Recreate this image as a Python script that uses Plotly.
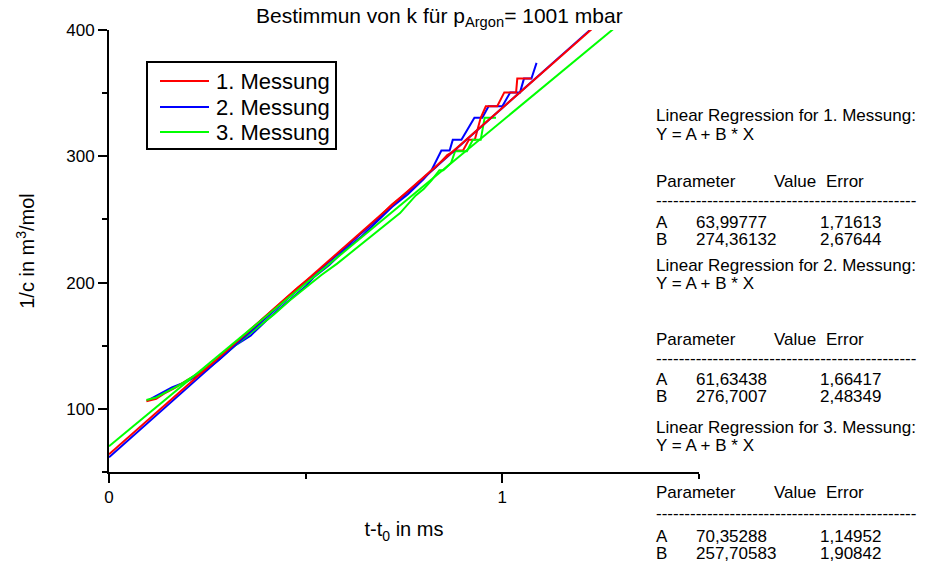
import numpy as np
import plotly.graph_objects as go

# Regression parameters (A, B, errors) per measurement
names = ["1. Messung", "2. Messung", "3. Messung"]
colors = ["#ff0000", "#0000ff", "#00ff00"]
fit_A = [63.99777, 61.63438, 70.35288]
fit_B = [274.36132, 276.7007, 257.70583]
err_A = ["1,71613", "1,66417", "1,14952"]
err_B = ["2,67644", "2,48349", "1,90842"]
val_A = ["63,99777", "61,63438", "70,35288"]
val_B = ["274,36132", "276,7007", "257,70583"]

# Measured 1/c values over t - t0 (ms)
x1 = [0.095, 0.12, 0.14, 0.17, 0.20, 0.24, 0.28, 0.32, 0.36, 0.40, 0.44, 0.48, 0.52,
      0.56, 0.60, 0.64, 0.68, 0.72, 0.76, 0.80, 0.83, 0.86, 0.88, 0.90, 0.915, 0.93,
      0.945, 0.958, 0.987, 1.005, 1.035, 1.038, 1.074]
y1 = [106, 108, 112, 117, 123, 130, 140, 151, 163, 174, 185, 196, 206,
      217, 228, 239, 250, 262, 272, 283, 291, 301, 304.5, 304.5, 313, 313,
      330.5, 339.6, 339.6, 350.6, 350.6, 361.5, 361.5]

x2 = [0.10, 0.13, 0.16, 0.20, 0.24, 0.28, 0.32, 0.36, 0.40, 0.44, 0.48, 0.50, 0.52,
      0.56, 0.60, 0.64, 0.68, 0.72, 0.76, 0.80, 0.82, 0.845, 0.866, 0.874, 0.896,
      0.91, 0.929, 0.949, 0.965, 1.0, 1.02, 1.045, 1.055, 1.074, 1.087]
y2 = [107, 112, 117, 122, 129, 139, 150, 158, 170, 181, 192, 197, 204,
      214, 226, 236, 248, 260, 270, 282, 289, 304.5, 304.5, 313, 313,
      320, 330.5, 330.5, 339.6, 339.6, 350.6, 350.6, 361.5, 361.5, 374]

x3 = [0.095, 0.12, 0.15, 0.18, 0.22, 0.26, 0.30, 0.34, 0.38, 0.42, 0.46, 0.50, 0.54,
      0.58, 0.62, 0.66, 0.70, 0.74, 0.78, 0.80, 0.82, 0.84, 0.85, 0.87, 0.88, 0.91,
      0.925, 0.945, 0.955, 0.984]
y3 = [107, 109, 114, 119, 127, 135, 145, 155, 165, 175, 186, 196, 206,
      215, 225, 235, 245, 255, 269, 274, 281, 289, 289, 295, 304, 304,
      313, 313, 330.5, 330.5]

xs = [x1, x2, x3]
ys = [y1, y2, y3]

FONT = "Liberation Sans, Arial, sans-serif"

fig = go.Figure()

# measured curves, then the regression lines Y = A + B * X
x_fit = np.linspace(0, 1.4, 50)
for i in [1, 0, 2]:
    fig.add_trace(go.Scatter(x=xs[i], y=ys[i], mode="lines", name=names[i],
                             line=dict(color=colors[i], width=2),
                             legendgroup=names[i], showlegend=False))
for i in [1, 0, 2]:
    fig.add_trace(go.Scatter(x=x_fit, y=fit_A[i] + fit_B[i] * x_fit, mode="lines",
                             name=names[i] + " (Fit)", line=dict(color=colors[i], width=2),
                             legendgroup=names[i], showlegend=False))

W, H = 933, 572
L, R, T, B = 109, 234, 30, 100  # plot area: x 109..699, y 30..472


def px(x):
    return (x - L) / (W - L - R)


def py(y):
    return (H - B - y) / (H - T - B)


ann = []
shapes = []
ann.append(dict(text="Bestimmun von k für p<sub>Argon</sub>= 1001 mbar",
                x=px(439), y=py(17), xref="paper", yref="paper",
                showarrow=False, xanchor="center", yanchor="middle",
                font=dict(size=21, family=FONT, color="black")))

# boxed key for the three measurements
shapes.append(dict(type="rect", xref="paper", yref="paper",
                   x0=px(147), x1=px(336), y0=py(62), y1=py(149),
                   line=dict(color="black", width=2), fillcolor="white", layer="above"))
for i, yk in enumerate([81, 107, 132]):
    shapes.append(dict(type="line", xref="paper", yref="paper",
                       x0=px(160), x1=px(209), y0=py(yk), y1=py(yk),
                       line=dict(color=colors[i], width=2), layer="above"))
    ann.append(dict(text=names[i], x=px(214), y=py(yk), xref="paper", yref="paper",
                    showarrow=False, xanchor="left", yanchor="middle",
                    font=dict(size=22, family=FONT, color="black")))

# regression result tables
blocks = [
    dict(lr=116, yeq=134, par=181, dash=201, a=222, b=239),
    dict(lr=265, yeq=283, par=339, dash=358, a=379, b=396),
    dict(lr=427, yeq=445, par=492, dash=513, a=536, b=553),
]
TX = 654
tf = dict(size=17, family=FONT, color="black")
for k, bl in enumerate(blocks):
    def line(text, xp, yp):
        ann.append(dict(text=text, x=px(xp), y=py(yp), xref="paper", yref="paper",
                        showarrow=False, xanchor="left", yanchor="middle", font=tf))
    line(f"Linear Regression for {names[k]}:", TX, bl["lr"])
    line("Y = A + B * X", TX, bl["yeq"])
    line("Parameter", TX, bl["par"])
    line("Value", 772, bl["par"])
    line("Error", 824, bl["par"])
    line("-" * 46, TX, bl["dash"])
    line("A", TX, bl["a"])
    line(val_A[k], 694, bl["a"])
    line(err_A[k], 818, bl["a"])
    line("B", TX, bl["b"])
    line(val_B[k], 694, bl["b"])
    line(err_B[k], 818, bl["b"])

fig.update_layout(
    width=W, height=H,
    margin=dict(l=L, r=R, t=T, b=B, pad=0),
    paper_bgcolor="white", plot_bgcolor="white",
    font=dict(family=FONT, color="black"),
    annotations=ann,
    shapes=shapes,
    showlegend=False,
    xaxis=dict(range=[0, 1.5], tick0=0, dtick=1, ticks="outside", ticklen=9,
               tickwidth=2, tickcolor="black",
               minor=dict(dtick=0.5, tick0=0, ticklen=5, tickwidth=2, tickcolor="black",
                          ticks="outside"),
               showline=True, linecolor="black", linewidth=2, showgrid=False,
               zeroline=False, tickfont=dict(size=17, family=FONT),
               title=dict(text="t-t<sub>0</sub> in ms", font=dict(size=20, family=FONT),
                          standoff=16)),
    yaxis=dict(range=[50, 400], tick0=0, dtick=100, ticks="outside", ticklen=9,
               tickwidth=2, tickcolor="black",
               minor=dict(dtick=50, tick0=0, ticklen=5, tickwidth=2, tickcolor="black",
                          ticks="outside"),
               showline=True, linecolor="black", linewidth=2, showgrid=False,
               zeroline=False, tickfont=dict(size=17, family=FONT),
               title=dict(text="1/c in m<sup>3</sup>/mol", font=dict(size=20, family=FONT),
                          standoff=26)),
)

fig.write_html("out.html")
